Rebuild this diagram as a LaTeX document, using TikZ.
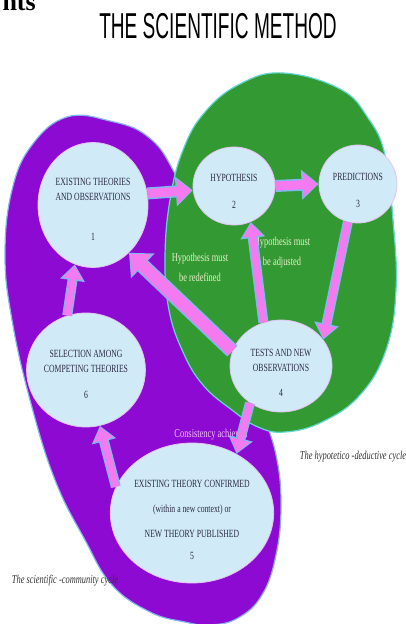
\documentclass[tikz,border=0pt]{standalone}
\usepackage{fontspec}
\setmainfont{Liberation Serif}[FakeStretch=0.7]
\newfontfamily\titlefont{Liberation Sans}[FakeStretch=0.53]
\newfontfamily\headfont{Liberation Serif}
\usetikzlibrary{arrows.meta,shapes.geometric}
\definecolor{Violet}{HTML}{8C0AD2}
\definecolor{VioletEdge}{HTML}{86B4F0}
\definecolor{Forest}{HTML}{339A33}
\definecolor{ForestEdge}{HTML}{62D6CF}
\definecolor{Bubble}{HTML}{D0EAF8}
\definecolor{BubbleEdge}{HTML}{E6C2F2}
\definecolor{Ink}{HTML}{2B2B45}
\definecolor{Pink}{HTML}{F57AF0}
\definecolor{PinkEdge}{HTML}{7FB8EE}
\definecolor{PaleNote}{HTML}{E6EFC8}
\definecolor{PinkNote}{HTML}{F2C4F2}
\definecolor{Caption}{HTML}{333333}
\tikzset{
  bubble/.style={ellipse,draw=BubbleEdge,line width=0.8pt,fill=Bubble,inner sep=0pt,
    align=center,text=Ink,font=\fontsize{11}{15}\selectfont},
  note/.style={align=center,text=PaleNote,font=\fontsize{12}{20}\selectfont},
  caption/.style={text=Caption,font=\fontsize{12}{14}\selectfont\itshape},
  arrow/.style={preaction={draw=PinkEdge,line width=12pt,shorten >=0pt,-{Triangle[length=17pt,width=29pt]}},
    draw=Pink,line width=9pt,shorten >=1.5pt,-{Triangle[length=14pt,width=24pt]}},
  widearrow/.style={preaction={draw=PinkEdge,line width=15pt,shorten >=0pt,-{Triangle[length=19pt,width=33pt]}},
    draw=Pink,line width=12pt,shorten >=1.5pt,-{Triangle[length=16pt,width=28pt]}},
  slimarrow/.style={preaction={draw=PinkEdge,line width=10pt,shorten >=0pt,-{Triangle[length=16pt,width=24pt]}},
    draw=Pink,line width=7pt,shorten >=1.5pt,-{Triangle[length=13pt,width=19pt]}}
}
\begin{document}
\begin{tikzpicture}[x=1pt,y=-1pt]
  \useasboundingbox (0,0) rectangle (406,624);
  \node[anchor=base west,font=\headfont\bfseries\fontsize{26}{30}\selectfont] (head) at (-1,10) {nts};
  \node[anchor=base,font=\titlefont\fontsize{36}{40}\selectfont] (title) at (218,38) {THE SCIENTIFIC METHOD};

  % the two cycles
  \draw[fill=Violet,draw=VioletEdge,line width=1.2pt] plot[smooth cycle,tension=0.7] coordinates {
    (67,117) (110,121) (147,136) (173,170) (200,235) (232,320) (260,405) (276,455)
    (281,505) (276,555) (262,595) (238,618) (210,625) (185,622) (150,612) (112,585)
    (85,540) (55,480) (30,400) (12,320) (5,255) (12,190) (32,145)};
  \draw[fill=Forest,draw=ForestEdge,line width=1.2pt] plot[smooth cycle,tension=0.7] coordinates {
    (283,73) (340,89) (368,118) (385,155) (393,220) (396,290) (386,350) (360,395)
    (322,422) (285,432) (258,427) (232,410) (203,385) (183,352) (169,310) (165,258)
    (170,200) (183,150) (205,112) (240,84)};

  % steps
  \node[bubble,minimum width=110pt,minimum height=125pt] (c1) at (93,205)
    {\rule{0pt}{16pt}EXISTING THEORIES\\AND OBSERVATIONS\\[25pt]1};
  \node[bubble,minimum width=82pt,minimum height=78pt] (c2) at (234,186)
    {\rule{0pt}{17pt}HYPOTHESIS\\[12pt]2};
  \node[bubble,minimum width=78pt,minimum height=78pt] (c3) at (358,184)
    {\rule{0pt}{21pt}PREDICTIONS\\[12pt]3};
  \node[bubble,minimum width=102pt,minimum height=92pt] (c4) at (281,366)
    {\rule{0pt}{21pt}TESTS AND NEW\\OBSERVATIONS\\[10pt]4};
  \node[bubble,minimum width=150pt,minimum height=140pt] (c5) at (192,513)
    {\rule{0pt}{21pt}EXISTING THEORY CONFIRMED\\[10pt](within a new context) or\\[10pt]NEW THEORY PUBLISHED\\[7pt]5};
  \node[bubble,minimum width=98pt,minimum height=114pt] (c6) at (86,370)
    {\rule{0pt}{17pt}SELECTION AMONG\\COMPETING THEORIES\\[11pt]6};

  \node[note] (redefined) at (200,267) {Hypothesis must\\be redefined};
  \node[note] (adjusted) at (282,253) {Hypothesis must\\be adjusted};
  \node[note,anchor=base,text=PinkNote] (consistent) at (211,437) {Consistency achieved};
  \node[caption,anchor=base] (hd) at (353,459) {The hypotetico -deductive cycle};
  \node[caption,anchor=base] (sc) at (65,583) {The scientific -community cycle};

  \draw[arrow] (c1.12) -- (c2.186);
  \draw[arrow] (c2.0) -- (c3.180);
  \draw[slimarrow] (c3.-105) -- (c4.32);
  \draw[slimarrow] (c4.112) -- (c2.-65);
  \draw[widearrow] (c4.163) -- (c1.-53);
  \draw[slimarrow] (c4.-130) -- (c5.53);
  \draw[slimarrow] (c5.161) -- (c6.-76);
  \draw[slimarrow] (c6.109) -- (c1.-107);
\end{tikzpicture}
\end{document}
